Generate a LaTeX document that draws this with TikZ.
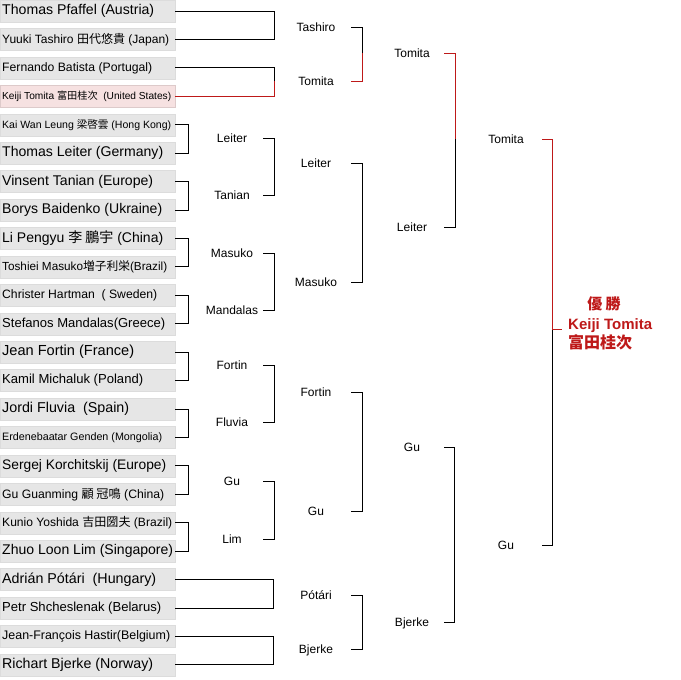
\documentclass[tikz,border=0pt]{standalone}
\usepackage{fontspec}
\setmainfont{Liberation Sans}
\newfontfamily\cjk{Noto Sans CJK JP}
\usepackage{graphicx}
\definecolor{boxgray}{RGB}{230,230,230}
\definecolor{boxedge}{RGB}{220,220,220}
\definecolor{winpink}{RGB}{246,225,225}
\definecolor{winred}{RGB}{190,25,25}
\newcommand{\fitw}[2]{\makebox[171pt][l]{\resizebox{#1pt}{!}{#2}}}
\tikzset{
  player/.style={draw=boxedge, fill=boxgray, anchor=west, minimum height=22pt, inner xsep=2pt, inner ysep=0pt},
  favour/.style={player, draw=winpink!90!black, fill=winpink},
  rnd/.style={font=\fontsize{12}{14}\selectfont, inner sep=0pt, text height=8.6pt, text depth=0pt},
  bk/.style={line width=1pt, black},
  win/.style={line width=1pt, winred}
}

\begin{document}
\begin{tikzpicture}[x=1pt, y=-1pt]
\useasboundingbox (0,0) rectangle (681,680);

\node[player] (p1) at (0,11) {\fitw{152}{Thomas Pfaffel (Austria)}};
\node[player] (p2) at (0,39.4) {\fitw{167}{Yuuki Tashiro {\cjk 田代悠貴} (Japan)}};
\node[player] (p3) at (0,67.9) {\fitw{150}{Fernando Batista (Portugal)}};
\node[favour] (p4) at (0,96.3) {\fitw{169}{Keiji Tomita {\cjk 富田桂次}~~(United States)}};
\node[player] (p5) at (0,124.7) {\fitw{169}{Kai Wan Leung {\cjk 梁啓雲} (Hong Kong)}};
\node[player] (p6) at (0,153.2) {\fitw{161}{Thomas Leiter (Germany)}};
\node[player] (p7) at (0,181.6) {\fitw{151}{Vinsent Tanian (Europe)}};
\node[player] (p8) at (0,210) {\fitw{160}{Borys Baidenko (Ukraine)}};
\node[player] (p9) at (0,238.4) {\fitw{161}{Li Pengyu {\cjk 李 鵬宇} (China)}};
\node[player] (p10) at (0,266.9) {\fitw{165}{Toshiei Masuko{\cjk 増子利栄}(Brazil)}};
\node[player] (p11) at (0,295.3) {\fitw{155}{Christer Hartman~~(~Sweden)}};
\node[player] (p12) at (0,323.7) {\fitw{163}{Stefanos Mandalas(Greece)}};
\node[player] (p13) at (0,352.2) {\fitw{132}{Jean Fortin (France)}};
\node[player] (p14) at (0,380.6) {\fitw{141}{Kamil Michaluk (Poland)}};
\node[player] (p15) at (0,409) {\fitw{127}{Jordi Fluvia~~(Spain)}};
\node[player] (p16) at (0,437.5) {\fitw{160}{Erdenebaatar Genden (Mongolia)}};
\node[player] (p17) at (0,465.9) {\fitw{164}{Sergej Korchitskij (Europe)}};
\node[player] (p18) at (0,494.3) {\fitw{162}{Gu Guanming {\cjk 顧 冠鳴} (China)}};
\node[player] (p19) at (0,522.7) {\fitw{170}{Kunio Yoshida {\cjk 吉田圀夫} (Brazil)}};
\node[player] (p20) at (0,551.2) {\fitw{171}{Zhuo Loon Lim (Singapore)}};
\node[player] (p21) at (0,579.6) {\fitw{154}{Adrián Pótári~~(Hungary)}};
\node[player] (p22) at (0,608) {\fitw{159}{Petr Shcheslenak (Belarus)}};
\node[player] (p23) at (0,636.5) {\fitw{168}{Jean-François Hastir(Belgium)}};
\node[player] (p24) at (0,664.9) {\fitw{151}{Richart Bjerke (Norway)}};

\node[rnd, minimum width=62pt] (a1) at (232,138) {Leiter};
\node[rnd, minimum width=62pt] (a2) at (232,195) {Tanian};
\node[rnd, minimum width=62pt] (a3) at (232,253) {Masuko};
\node[rnd, minimum width=62pt] (a4) at (232,310) {Mandalas};
\node[rnd, minimum width=62pt] (a5) at (232,365) {Fortin};
\node[rnd, minimum width=62pt] (a6) at (232,422) {Fluvia};
\node[rnd, minimum width=62pt] (a7) at (232,481) {Gu};
\node[rnd, minimum width=62pt] (a8) at (232,539) {Lim};

\node[rnd, minimum width=70pt] (b1) at (316,27) {Tashiro};
\node[rnd, minimum width=70pt] (b2) at (316,81) {Tomita};
\node[rnd, minimum width=70pt] (b3) at (316,163.5) {Leiter};
\node[rnd, minimum width=70pt] (b4) at (316,282) {Masuko};
\node[rnd, minimum width=70pt] (b5) at (316,392.5) {Fortin};
\node[rnd, minimum width=70pt] (b6) at (316,511) {Gu};
\node[rnd, minimum width=70pt] (b7) at (316,595) {Pótári};
\node[rnd, minimum width=70pt] (b8) at (316,649) {Bjerke};

\node[rnd, minimum width=64pt] (c1) at (412,53) {Tomita};
\node[rnd, minimum width=64pt] (c2) at (412,227) {Leiter};
\node[rnd, minimum width=64pt] (c3) at (412,447.5) {Gu};
\node[rnd, minimum width=64pt] (c4) at (412,622) {Bjerke};

\node[rnd, minimum width=72pt] (d1) at (506,139) {Tomita};
\node[rnd, minimum width=72pt] (d2) at (506,545.5) {Gu};

\node[font=\cjk\bfseries\fontsize{15}{15}\selectfont, text=winred, inner sep=0pt] (title) at (604,304) {優 勝};
\node[font=\bfseries\fontsize{15}{15}\selectfont, text=winred, inner sep=0pt, anchor=west] (champ) at (568,326) {Keiji Tomita};
\node[font=\cjk\bfseries\fontsize{16}{16}\selectfont, text=winred, inner sep=0pt, anchor=west] (kanji) at (568,342) {富田桂次};

\coordinate (jp) at ([xshift=99pt]p4.east);
\coordinate (jb) at ([xshift=11pt]b2.east);
\coordinate (jc) at ([xshift=11pt]c1.east);
\coordinate (jd) at ([xshift=10pt]d1.east);
\coordinate (cs) at (562,329);

\draw[bk] (p1.east) -| ([xshift=99pt]p2.east) -- (p2.east);
\draw[bk] (p3.east) -| (jp |- b2);
\draw[win] (p4.east) -- (jp) -- (jp |- b2);
\draw[bk] (p5.east) -| ([xshift=13pt]p6.east) -- (p6.east);
\draw[bk] (p7.east) -| ([xshift=13pt]p8.east) -- (p8.east);
\draw[bk] (p9.east) -| ([xshift=13pt]p10.east) -- (p10.east);
\draw[bk] (p11.east) -| ([xshift=13pt]p12.east) -- (p12.east);
\draw[bk] (p13.east) -| ([xshift=13pt]p14.east) -- (p14.east);
\draw[bk] (p15.east) -| ([xshift=13pt]p16.east) -- (p16.east);
\draw[bk] (p17.east) -| ([xshift=13pt]p18.east) -- (p18.east);
\draw[bk] (p19.east) -| ([xshift=13pt]p20.east) -- (p20.east);
\draw[bk] (p21.east) -| ([xshift=98pt]p22.east) -- (p22.east);
\draw[bk] (p23.east) -| ([xshift=98pt]p24.east) -- (p24.east);

\draw[bk] (a1.east) -| ([xshift=11pt]a2.east) -- (a2.east);
\draw[bk] (a3.east) -| ([xshift=11pt]a4.east) -- (a4.east);
\draw[bk] (a5.east) -| ([xshift=11pt]a6.east) -- (a6.east);
\draw[bk] (a7.east) -| ([xshift=11pt]a8.east) -- (a8.east);

\draw[bk] (b1.east) -| (jb |- c1);
\draw[win] (b2.east) -- (jb) -- (jb |- c1);
\draw[bk] (b3.east) -| ([xshift=11pt]b4.east) -- (b4.east);
\draw[bk] (b5.east) -| ([xshift=11pt]b6.east) -- (b6.east);
\draw[bk] (b7.east) -| ([xshift=11pt]b8.east) -- (b8.east);

\draw[bk] (c2.east) -| (jc |- d1);
\draw[win] (c1.east) -- (jc) -- (jc |- d1);
\draw[bk] (c3.east) -| ([xshift=10pt]c4.east) -- (c4.east);

\draw[bk] (d2.east) -| (jd |- cs);
\draw[win] (d1.east) -- (jd) |- (cs);
\end{tikzpicture}
\end{document}
